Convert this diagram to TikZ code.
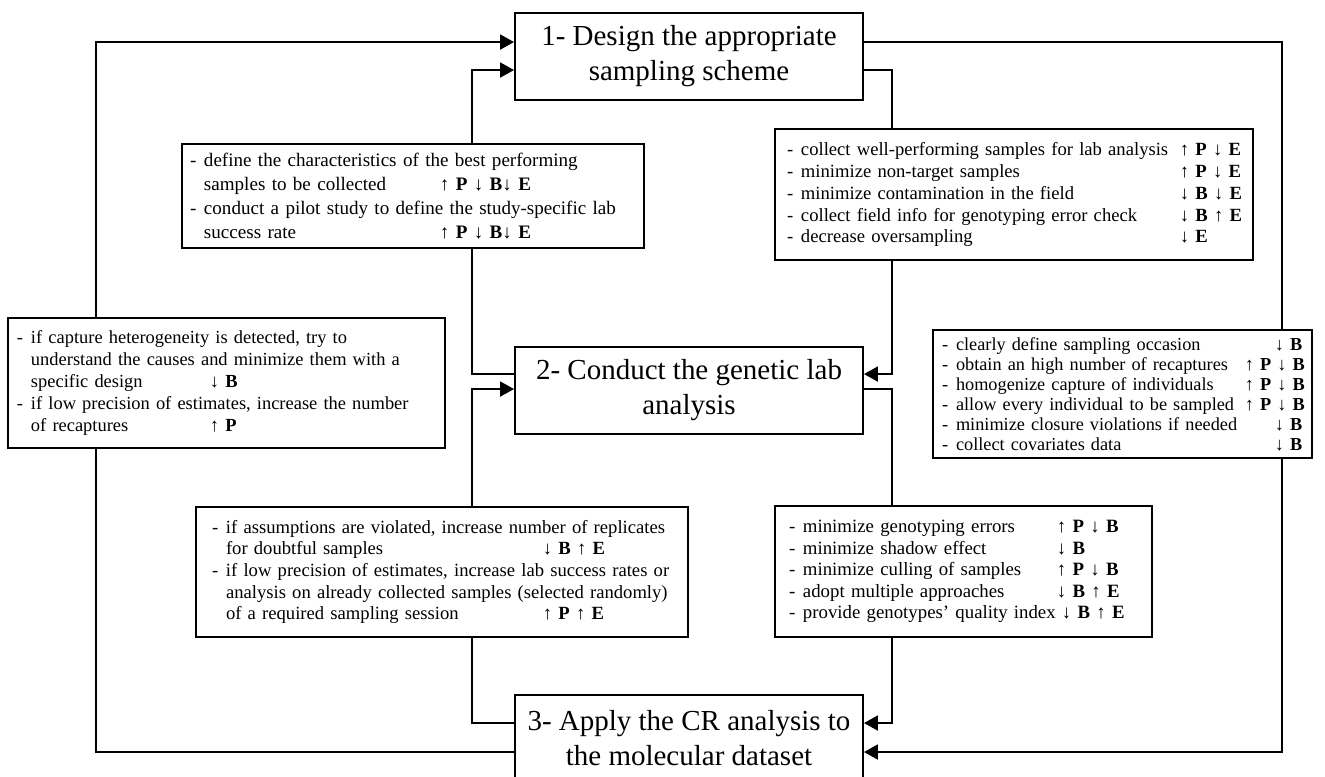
\documentclass[tikz,border=0pt]{standalone}
\usepackage{fontspec}
\setmainfont{Liberation Serif}
\usetikzlibrary{arrows.meta}
\usetikzlibrary{calc}
\newlength{\pxu}
\setlength{\pxu}{0.02cm}
\newcommand{\itm}{\makebox[0.28cm][l]{-}}
\newcommand{\cnt}{\hspace*{0.28cm}}
\newcommand{\incr}[1]{↑~\textbf{#1}}
\newcommand{\decr}[1]{↓~\textbf{#1}}
\tikzset{
  stage/.style={draw=black, line width=1.1pt, minimum width=348\pxu, minimum height=87\pxu, inner sep=0pt, align=center, font=\fontsize{16.5}{19.9}\selectfont},
  note/.style={draw=black, line width=1.1pt, inner sep=0pt, align=left},
  link/.style={draw=black, line width=1.1pt},
  flow/.style={link, -{Triangle[length=0.28cm,width=0.3cm]}}
}
\begin{document}
\begin{tikzpicture}[x=\pxu, y=-\pxu]
\useasboundingbox (0,0) rectangle (1325,777);
\node[stage] (b1) at (689,56.5) {1- Design the appropriate\\sampling scheme};
\node[stage] (b2) at (689,390.5) {2- Conduct the genetic lab\\analysis};
\node[stage] (b3) at (689,738.5) {3- Apply the CR analysis to\\the molecular dataset};

\node[note, text width=462\pxu, minimum height=104\pxu, font=\fontsize{10.85}{13.6}\selectfont, execute at begin node={\leftskip=8\pxu}] (tl) at (413,196) {\itm define the characteristics of the best performing\\
\cnt\makebox[4.72cm][l]{samples to be collected}\incr{P}~\decr{B}\decr{E}\\
\itm conduct a pilot study to define the study-specific lab\\
\cnt\makebox[4.72cm][l]{success rate}\incr{P}~\decr{B}\decr{E}};
\node[note, text width=478\pxu, minimum height=131\pxu, font=\fontsize{10.6}{12.5}\selectfont, execute at begin node={\leftskip=12\pxu}] (tr) at (1014,194.5) {\itm\makebox[7.58cm][l]{collect well-performing samples for lab analysis}\incr{P}~\decr{E}\\
\itm\makebox[7.58cm][l]{minimize non-target samples}\incr{P}~\decr{E}\\
\itm\makebox[7.58cm][l]{minimize contamination in the field}\decr{B}~\decr{E}\\
\itm\makebox[7.58cm][l]{collect field info for genotyping error check}\decr{B}~\incr{E}\\
\itm\makebox[7.58cm][l]{decrease oversampling}\decr{E}};
\node[note, text width=437\pxu, minimum height=130\pxu, font=\fontsize{10.5}{12.5}\selectfont, execute at begin node={\leftskip=9\pxu}] (lm) at (226.5,383) {\itm if capture heterogeneity is detected, try to\\
\cnt understand the causes and minimize them with a\\
\cnt\makebox[3.58cm][l]{specific design}\decr{B}\\
\itm if low precision of estimates, increase the number\\
\cnt\makebox[3.58cm][l]{of recaptures}\incr{P}};
\node[note, text width=379\pxu, minimum height=128\pxu, font=\fontsize{10.4}{11.4}\selectfont, execute at begin node={\leftskip=9\pxu}] (rm) at (1122.5,394) {\itm\makebox[6.38cm][l]{clearly define sampling occasion}\decr{B}\\
\itm\makebox[5.78cm][l]{obtain an high number of recaptures}\incr{P}~\decr{B}\\
\itm\makebox[5.78cm][l]{homogenize capture of individuals}\incr{P}~\decr{B}\\
\itm\makebox[5.78cm][l]{allow every individual to be sampled}\incr{P}~\decr{B}\\
\itm\makebox[6.38cm][l]{minimize closure violations if needed}\decr{B}\\
\itm\makebox[6.38cm][l]{collect covariates data}\decr{B}};
\node[note, text width=492\pxu, minimum height=130\pxu, font=\fontsize{10.6}{12.3}\selectfont, execute at begin node={\leftskip=16\pxu}] (bl) at (442,572) {\itm if assumptions are violated, increase number of replicates\\
\cnt\makebox[6.34cm][l]{for doubtful samples}\decr{B}~\incr{E}\\
\itm if low precision of estimates, increase lab success rates or\\
\cnt analysis on already collected samples (selected randomly)\\
\cnt\makebox[6.34cm][l]{of a required sampling session}\incr{P}~\incr{E}};
\node[note, text width=377\pxu, minimum height=131\pxu, font=\fontsize{10.7}{12.3}\selectfont, execute at begin node={\leftskip=14\pxu}] (br) at (963.5,571.5) {\itm\makebox[5.08cm][l]{minimize genotyping errors}\incr{P}~\decr{B}\\
\itm\makebox[5.08cm][l]{minimize shadow effect}\decr{B}\\
\itm\makebox[5.08cm][l]{minimize culling of samples}\incr{P}~\decr{B}\\
\itm\makebox[5.08cm][l]{adopt multiple approaches}\decr{B}~\incr{E}\\
\itm provide genotypes' quality index~\decr{B}~\incr{E}};

\coordinate (lnL) at (96,0);
\coordinate (lnA) at (472,0);
\coordinate (lnB) at (892,0);
\coordinate (lnR) at (1282,0);

\draw[link] ($(b3.north west)+(0,58)$) -| (lnL |- lm.south);
\draw[flow] (lnL |- lm.north) |- ($(b1.north west)+(0,30)$);
\draw[link] ($(b2.north west)+(0,28)$) -| (lnA |- tl.south);
\draw[flow] (lnA |- tl.north) |- ($(b1.north west)+(0,58)$);
\draw[link] ($(b1.north east)+(0,58)$) -| (lnB |- tr.north);
\draw[flow] (lnB |- tr.south) |- ($(b2.north east)+(0,28)$);
\draw[link] ($(b2.north east)+(0,43)$) -| (lnB |- br.north);
\draw[flow] (lnB |- br.south) |- ($(b3.north east)+(0,29)$);
\draw[link] ($(b3.north west)+(0,29)$) -| (lnA |- bl.south);
\draw[flow] (lnA |- bl.north) |- ($(b2.north west)+(0,43)$);
\draw[link] ($(b1.north east)+(0,30)$) -| (lnR |- rm.north);
\draw[flow] (lnR |- rm.south) |- ($(b3.north east)+(0,58)$);
\end{tikzpicture}
\end{document}
